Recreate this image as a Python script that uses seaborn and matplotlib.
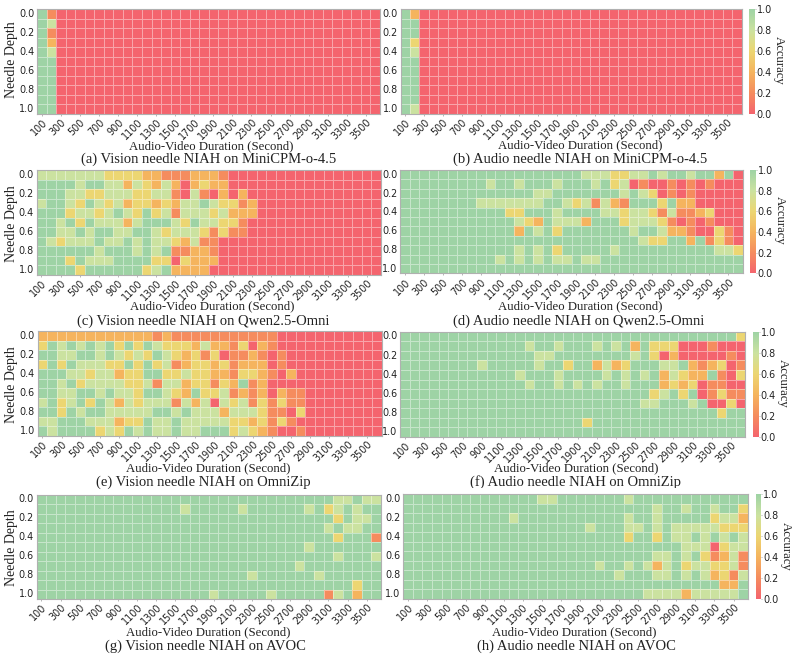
import numpy as np
import pandas as pd
import seaborn as sns
import matplotlib
matplotlib.use("Agg")
import matplotlib.pyplot as plt
from matplotlib.colors import LinearSegmentedColormap
from matplotlib.transforms import Bbox

W, H = 797, 660

durations = list(range(100, 3700, 100))
depths = [round(d * 0.1, 1) for d in range(11)]

# Each row is one needle depth, each digit one duration; digit / 5 = accuracy.
vision_minicpm = [
    "51" + "0" * 34, "54" + "0" * 34, "51" + "0" * 34, "52" + "0" * 34,
    "54" + "0" * 34, "55" + "0" * 34, "55" + "0" * 34, "55" + "0" * 34,
    "55" + "0" * 34, "55" + "0" * 34, "55" + "0" * 34,
]
audio_minicpm = [
    "52" + "0" * 34, "55" + "0" * 34, "55" + "0" * 34, "53" + "0" * 34,
    "54" + "0" * 34, "55" + "0" * 34, "55" + "0" * 34, "55" + "0" * 34,
    "55" + "0" * 34, "55" + "0" * 34, "54" + "0" * 34,
]
vision_qwen = [
    "4444444" + "3333" + "22" + "111" + "222" + "1" + "0" * 16,
    "5555" + "4" + "55" + "44" + "2" + "4" + "3" + "2" + "4" + "2" + "0" + "2" + "3" + "2" + "2" + "0" * 16,
    "555" + "44" + "33" + "444" + "33" + "44" + "1" + "0" + "4" + "1" + "0" + "2" + "0" + "2" + "0" * 14,
    "4" + "55" + "4" + "3" + "5" + "4" + "3" + "4" + "2" + "33" + "2" + "3" + "2" + "44" + "5" + "4" + "33" + "1" + "2" + "0" * 13,
    "555" + "3" + "44" + "3" + "4" + "5" + "4" + "3" + "5" + "3" + "4" + "1" + "444" + "3" + "4" + "222" + "0" * 13,
    "55" + "4" + "5" + "3" + "5" + "444" + "2" + "4" + "555" + "4" + "3" + "5" + "44" + "33" + "1" + "0" * 14,
    "55" + "44" + "5" + "4" + "55" + "44" + "55" + "4" + "3" + "444" + "3" + "1" + "3" + "11" + "0" * 14,
    "5" + "4" + "3" + "444" + "5" + "44" + "5" + "4" + "5" + "44" + "3" + "2" + "4" + "11" + "0" * 17,
    "555555" + "4" + "555" + "4" + "5" + "4" + "5" + "11" + "22" + "1" + "0" * 17,
    "555" + "3" + "5" + "444" + "5555" + "33" + "0" + "3" + "222" + "0" * 17,
    "5555" + "3" + "555555" + "3" + "4" + "5" + "2222" + "0" * 18,
]
audio_qwen = [
    "5" * 19 + "444" + "33" + "44" + "5" + "4" + "55" + "4" + "55" + "2" + "5" + "0",
    "5" * 9 + "4" + "55" + "4" + "555" + "4" + "555" + "4" + "5" + "3" + "4" + "0" + "1" + "00" + "1" + "0" + "1" + "0" + "1" + "000",
    "5" * 14 + "44" + "5" * 7 + "4" + "5" + "4" + "3" + "0" + "1" + "0" + "1" + "00000",
    "5" * 8 + "4" * 7 + "55" + "4" + "3" + "4" + "1" + "4" + "2" + "1" + "555" + "3" + "5" + "22" + "00000",
    "5" * 11 + "33" + "555" + "4" + "5555" + "44" + "3" + "44" + "3" + "1" + "4" + "11" + "2" + "3" + "000",
    "5" * 12 + "4" + "3" + "2" + "5" + "444" + "2" + "555" + "3" + "444" + "3" + "1" + "0" + "1" + "0" + "1" + "000",
    "5" * 12 + "2" + "5" + "4" + "5" + "3" + "5" * 7 + "4" + "55" + "4" + "22" + "1" + "00" + "3" + "1" + "0",
    "5" * 25 + "4" + "33" + "55" + "2" + "5" + "1" + "3" + "1" + "0",
    "5" * 12 + "4" + "5" + "4" + "5" + "3" + "5" * 5 + "4" + "5" * 10 + "44" + "3",
    "5" * 10 + "4" + "5" + "4" + "5" + "4" + "5" + "44" + "5" + "44" + "5" * 15,
    "5" * 36,
]
vision_omnizip = [
    "2" * 12 + "1" + "2" + "1" * 11 + "0" * 11,
    "3545454535354" + "333" + "2" + "4" + "22" + "1" + "3" + "0" + "2" + "1" + "0" * 11,
    "55" + "44" + "55" + "4" + "5" + "4" + "3" + "4" + "3" + "5" + "4" + "3" + "2" + "3" + "1" + "3" + "0" + "11" + "2" + "1" + "0" + "1" + "0" * 10,
    "35354443353534" + "12332" + "31222" + "01" + "0" * 10,
    "555443442335533433221332102" + "0" * 9,
    "55" + "4" + "5" + "3" + "4444" + "33" + "4" + "1" + "44" + "2" + "33" + "1" + "3" + "2" + "5" + "1" + "2" + "00" + "0" * 10,
    "55445545" + "44355432" + "53341212" + "0211" + "0" * 8,
    "45345354" + "24344414" + "24043413" + "1311" + "0" * 8,
    "55354554" + "44445545" + "44424443" + "1103" + "0" * 8,
    "44555444" + "23354454" + "44443323" + "131" + "0" * 9,
    "54555534" + "35454454" + "45553432" + "1001" + "0" * 8,
]
audio_omnizip = [
    "5" * 35 + "3",
    "5" * 13 + "4" + "55" + "4" + "555" + "4" + "5" + "4" + "5" + "2" + "5" + "333" + "000" + "1" + "000",
    "5" * 14 + "44" + "5" * 8 + "4" + "5" + "3" + "0" + "2" + "00000" + "1" + "0",
    "5" * 8 + "4" + "5" * 5 + "4" + "55" + "3" + "55" + "2" + "4" + "2" + "3" + "555" + "44" + "5" + "2" + "1" + "2" + "3" + "0" + "1",
    "5" * 12 + "4" + "555" + "4" + "5" * 4 + "4" + "5" + "4" + "5" + "4" + "5" + "2" + "4" + "3" + "22" + "5" + "1" + "0" + "3",
    "5" * 13 + "4" + "55" + "4" + "5" + "4" + "5" + "4" + "55" + "4" + "555" + "2" + "3" + "2" + "3" + "0" + "11" + "00",
    "5" * 26 + "3" + "4" + "5" + "3" + "5" + "0" + "1" + "3" + "11",
    "5" * 25 + "44" + "555" + "4" + "5" + "00" + "3" + "0",
    "5" * 33 + "3" + "55",
    "5" * 19 + "3" + "5" * 16,
    "5" * 36,
]
vision_avoc = [
    "5" * 31 + "44" + "5" + "44",
    "5" * 15 + "4" + "5" * 5 + "4" + "5" * 6 + "4" + "5" + "3" + "4" + "5" + "4" + "55",
    "5" * 31 + "3" + "5" + "44" + "5",
    "5" * 30 + "4" + "5" + "44" + "55",
    "5" * 31 + "3" + "555" + "1",
    "5" * 28 + "4" + "5" * 7,
    "5" * 31 + "4" + "555" + "4",
    "5" * 27 + "4" + "5" * 8,
    "5" * 22 + "4" + "5" * 6 + "4" + "5" * 6,
    "5" * 33 + "3" + "55",
    "5" * 18 + "4" + "5" * 5 + "4" + "5" * 5 + "1" + "4" + "5" + "2" + "55",
]
audio_avoc = [
    "5" * 14 + "44" + "5" * 7 + "4" + "5" * 12,
    "5" * 26 + "4" + "55" + "4" + "55" + "4" + "55" + "3",
    "5" * 11 + "4" + "5" * 11 + "4" + "55" + "4" + "5" * 5 + "3" + "44" + "2",
    "5" * 19 + "4" + "555" + "44" + "5" + "4" + "5" + "4" * 5 + "333",
    "5" * 23 + "3" + "55" + "3" + "5" + "44" + "5" + "4" + "5" + "4" + "5" + "4",
    "5" * 29 + "444" + "0" + "3" + "44",
    "5" * 26 + "44" + "5" + "4" + "5" + "3" + "1" + "2" + "4" + "1",
    "5" * 20 + "4" + "55" + "4" + "5" + "4" + "2" + "4" + "5" + "3" + "44" + "33" + "4" + "1",
    "5" * 22 + "4" + "555" + "44" + "5" + "4" + "5" + "4" + "2" + "3" + "1" + "4",
    "5" * 33 + "22" + "5",
    "5" * 25 + "4444" + "2" + "44444" + "5",
]

captions = [
    "(a) Vision needle NIAH on MiniCPM-o-4.5",
    "(b) Audio needle NIAH on MiniCPM-o-4.5",
    "(c) Vision needle NIAH on Qwen2.5-Omni",
    "(d) Audio needle NIAH on Qwen2.5-Omni",
    "(e) Vision needle NIAH on OmniZip",
    "(f) Audio needle NIAH on OmniZip",
    "(g) Vision needle NIAH on AVOC",
    "(h) Audio needle NIAH on AVOC",
]
panels = [
    vision_minicpm, audio_minicpm, vision_qwen, audio_qwen,
    vision_omnizip, audio_omnizip, vision_avoc, audio_avoc,
]

# Layout in pixels: left, right, top, bottom of every heatmap
boxes = [
    (37.3, 380, 9, 114), (400.5, 741.5, 9, 114),
    (36.7, 381, 170, 275), (400.3, 742.7, 170, 273.5),
    (37.7, 381.7, 331, 436), (400.3, 745.3, 331.7, 437),
    (36.7, 381, 494.7, 599), (403.3, 748, 494, 599),
]
cbar_boxes = {1: (749.3, 754.7), 3: (750.3, 756), 5: (753, 758.7), 7: (756.3, 761.3)}
xlabel_pos = [(211, 146), (580, 145), (212, 306), (580, 306),
              (208, 468), (576, 468), (208, 632), (574, 632)]
caption_pos = [(209, 159), (580, 159), (203, 321), (579, 321),
               (203, 482), (575, 482), (205, 646), (576, 646)]
ylabel_pos = {0: (12, 60), 2: (12, 224), 4: (12, 385), 6: (12, 548)}
cbar_label_pos = {1: (779, 60), 3: (780, 220), 5: (783, 383), 7: (786, 546)}

serif = "Liberation Serif"
tick_size = 6.9
accuracy_cmap = LinearSegmentedColormap.from_list(
    "accuracy",
    ["#f4646e", "#f58c5e", "#f5b45e", "#ecd672", "#cbe2a0", "#9ed3a5"],
)

sns.set_theme(style="white")
plt.rcParams["font.family"] = ["DejaVu Sans"]
fig = plt.figure(figsize=(W / 100, H / 100), dpi=100)


def px_axes(left, right, top, bottom):
    return fig.add_axes([left / W, 1 - bottom / H, (right - left) / W, (bottom - top) / H])


def text_px(x, y, s, **kw):
    return fig.text(x / W, 1 - y / H, s, family=serif, ha="center", va="center",
                    color="#222222", **kw)


for i, rows in enumerate(panels):
    assert all(len(r) == 36 for r in rows), (i, [len(r) for r in rows])
    values = np.array([[int(c) / 5 for c in r] for r in rows])
    frame = pd.DataFrame(values, index=depths, columns=durations)
    ax = px_axes(*boxes[i])
    cax = None
    if i in cbar_boxes:
        l, r = cbar_boxes[i]
        cax = px_axes(l, r, boxes[i][2], boxes[i][3])
    sns.heatmap(frame, ax=ax, cmap=accuracy_cmap, vmin=0, vmax=1,
                linewidths=0.5, linecolor=(1, 1, 1, 0.42),
                cbar=cax is not None, cbar_ax=cax,
                xticklabels=2, yticklabels=2)
    ax.tick_params(axis="x", length=1.5, width=0.5, color="#999999", pad=1,
                   labelsize=tick_size, labelcolor="#222222", bottom=True)
    ax.tick_params(axis="y", length=0, pad=2, labelsize=tick_size, labelcolor="#222222")
    plt.setp(ax.get_xticklabels(), rotation=45, ha="right", rotation_mode="anchor")
    plt.setp(ax.get_yticklabels(), rotation=0)
    for spine in ax.spines.values():
        spine.set_visible(True)
        spine.set_color("#b0b0b0")
        spine.set_linewidth(0.8)
    if cax is not None:
        cax.set_yticks([0, 0.2, 0.4, 0.6, 0.8, 1.0])
        cax.tick_params(length=1, width=0.5, color="#999999", pad=0.3,
                        labelsize=tick_size, labelcolor="#222222")
        for spine in cax.spines.values():
            spine.set_visible(False)
        x, y = cbar_label_pos[i]
        text_px(x, y, "Accuracy", rotation=270, fontsize=9.2)
    text_px(*xlabel_pos[i], "Audio-Video Duration (Second)", fontsize=9.2)
    caption = text_px(*caption_pos[i], captions[i], fontsize=10.5)
    if i == 5:
        # Bottom of this caption is cut off by the row beneath it
        caption.set_clip_box(Bbox([[0, H - 488], [W, H]]))
        caption.set_clip_on(True)
    if i in ylabel_pos:
        text_px(*ylabel_pos[i], "Needle Depth", rotation=90, fontsize=10)

fig.savefig("out.png", dpi=100, facecolor="white")
